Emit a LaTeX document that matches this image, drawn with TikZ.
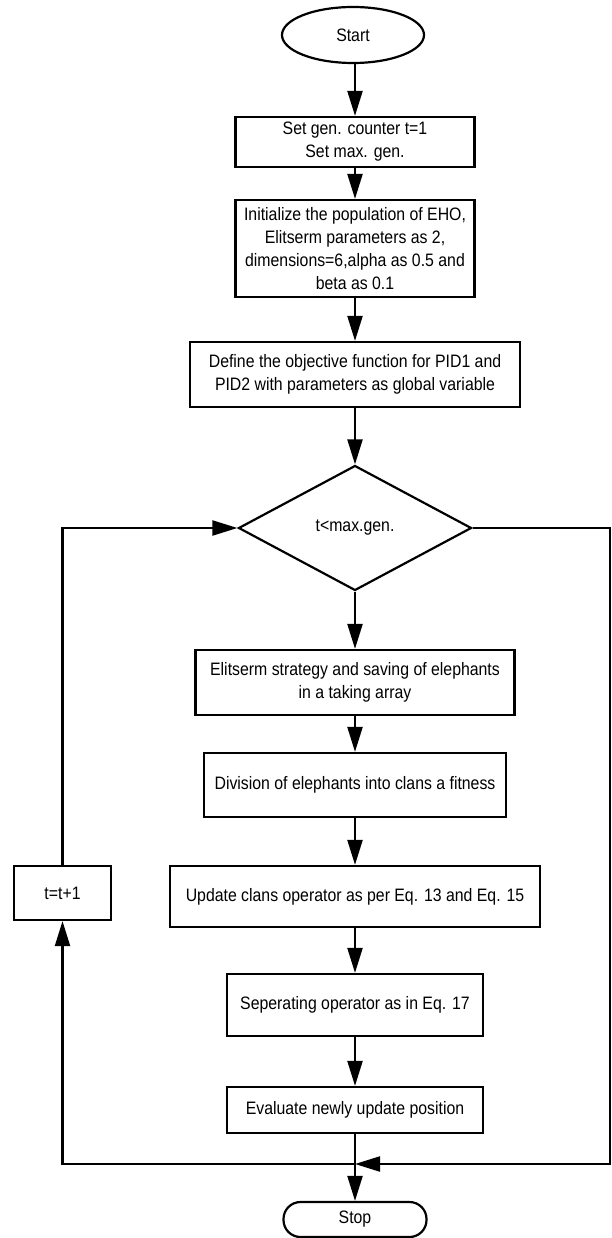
\documentclass[tikz,border=0pt]{standalone}
\usepackage{fontspec}
\setmainfont{Liberation Sans}[FakeStretch=0.88]
\usetikzlibrary{shapes.geometric,arrows.meta}
\begin{document}
\begin{tikzpicture}[x=1pt,y=-1pt,
  every node/.style={font=\fontsize{18}{23}\selectfont, align=center, inner sep=0pt},
  procbox/.style={draw, line width=2.2pt, rectangle},
  conn/.style={line width=2.2pt, -{Triangle[length=25pt,width=15pt]}},
  plain/.style={line width=2.2pt}]
\useasboundingbox (0,0) rectangle (611,1238);
\node[draw, line width=2.2pt, ellipse, minimum width=142pt, minimum height=56pt] (start) at (353,35) {Start};
\node[procbox, minimum width=239pt, minimum height=50pt] (b1) at (355,142) {Set gen. counter t=1\\Set max. gen.};
\node[procbox, minimum width=239pt, minimum height=97pt] (b2) at (355,248.5) {Initialize the population of EHO,\\Elitserm parameters as 2,\\dimensions=6,alpha as 0.5 and\\beta as 0.1};
\node[procbox, minimum width=330pt, minimum height=65pt] (b3) at (355,374.5) {Define the objective function for PID1 and\\PID2 with parameters as global variable};
\node[draw, line width=2.2pt, diamond, minimum width=233pt, minimum height=125pt] (dec) at (355,528) {t<max.gen.};
\node[procbox, minimum width=319pt, minimum height=65pt] (b4) at (355,682.5) {Elitserm strategy and saving of elephants\\in a taking array};
\node[procbox, minimum width=302pt, minimum height=64pt] (b5) at (355,785) {Division of elephants into clans a fitness};
\node[procbox, minimum width=370pt, minimum height=61pt] (b6) at (355,896.5) {Update clans operator as per Eq. 13 and Eq. 15};
\node[procbox, minimum width=97pt, minimum height=54pt] (tb) at (62.5,893) {t=t+1};
\node[procbox, minimum width=256pt, minimum height=62pt] (b7) at (355,1005) {Seperating operator as in Eq. 17};
\node[procbox, minimum width=256pt, minimum height=46pt] (b8) at (355,1110) {Evaluate newly update position};
\node[draw, line width=2.2pt, rectangle, rounded corners=17pt, minimum width=143pt, minimum height=35pt] (stop) at (355,1219.5) {Stop};
\coordinate (J) at (355,1164);
\coordinate (RT) at (610,528);
\coordinate (RB) at (610,1164);
\coordinate (LB) at (62.5,1164);
\coordinate (LT) at (62.5,528);

\draw[conn] (start.south -| b1.north) -- (b1.north);
\draw[conn] (b1) -- (b2);
\draw[conn] (b2) -- (b3);
\draw[conn] (b3) -- (dec.north);
\draw[conn] (dec.south) -- (b4);
\draw[conn] (b4) -- (b5);
\draw[conn] (b5) -- (b6);
\draw[conn] (b6) -- (b7);
\draw[conn] (b7) -- (b8);
\draw[conn] (b8) -- (stop);
\draw[conn] (dec.east) -- (RT) -- (RB) -- (J);
\draw[conn] (J) -- (LB) -- (tb.south);
\draw[conn] (tb.north) -- (LT) -- (dec.west);
\end{tikzpicture}
\end{document}
